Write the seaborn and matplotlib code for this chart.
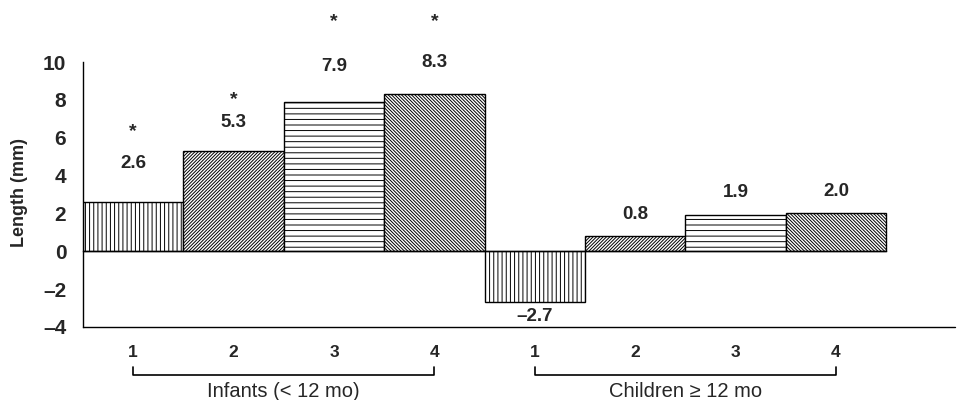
import numpy as np
import pandas as pd
import seaborn as sns
import matplotlib.pyplot as plt

# data
groups = ['Infants (< 12 mo)', 'Children ≥ 12 mo']
levels = ['1', '2', '3', '4']
values = [2.6, 5.3, 7.9, 8.3, -2.7, 0.8, 1.9, 2.0]
value_text = ['2.6', '5.3', '7.9', '8.3', '–2.7', '0.8', '1.9', '2.0']
signif = [True, True, True, True, False, False, False, False]

# where the value labels and stars sit (data units)
label_y = [4.66, 6.83, 9.74, 9.95, -3.47, 1.92, 3.13, 3.18]
star_y = [6.3, 7.99, 12.11, 12.11]
hatches = ['||||', '/' * 10, '---', '\\' * 10]

sns.set_style('white')
plt.rcParams['font.family'] = ['Liberation Sans', 'DejaVu Sans']
plt.rcParams['hatch.linewidth'] = 0.7

bars = [f'{g}-{l}' for g in groups for l in levels]
df = pd.DataFrame({'bar': bars, 'length': values})

fig = plt.figure(figsize=(9.57, 4.0), dpi=100)
ax = fig.add_axes([83 / 957, 73 / 400, 872 / 957, 265 / 400])

sns.barplot(data=df, x='bar', y='length', order=bars, color='white',
            saturation=1, edgecolor='black', linewidth=1, width=1,
            errorbar=None, ax=ax)
for patch, h in zip(ax.patches, hatches * 2):
    patch.set_hatch(h)

n = len(values)
ax.set_xlim(-0.5, -0.5 + 872 / 100.4)
ax.set_ylim(-4, 10)
ax.set_yticks(range(-4, 11, 2))
ax.set_yticklabels([str(v).replace('-', '–') for v in range(-4, 11, 2)],
                   fontsize=15, fontweight='bold')
ax.set_xticks(np.arange(-0.5, n, 1))
ax.set_xticklabels([''] * (n + 1))
ax.set_xlabel('')

for s in ['top', 'right']:
    ax.spines[s].set_visible(False)
ax.spines['bottom'].set_position(('data', 0))
ax.spines['bottom'].set_bounds(-0.5, n - 0.5)
ax.spines['left'].set_bounds(-4, 10)
for s in ['bottom', 'left']:
    ax.spines[s].set_linewidth(1)
    ax.spines[s].set_color('black')
ax.tick_params(axis='both', direction='out', length=6, width=1, color='black')
ax.tick_params(axis='y', pad=6)
ax.axhline(-4, color='black', lw=1, clip_on=False)

ax.set_ylabel('Length (mm)', fontsize=13, fontweight='bold')
ax.yaxis.set_label_coords(-0.063, 0.509)

# value labels and significance stars
for i, (txt, ly) in enumerate(zip(value_text, label_y)):
    ax.text(i, ly, txt, ha='center', va='center', fontsize=13.5,
            fontweight='bold', clip_on=False)
for i, sy in enumerate(star_y):
    if signif[i]:
        ax.text(i, sy, '*', ha='center', va='center', fontsize=14,
                fontweight='bold', clip_on=False)

# category numbers, brackets and group names under the axis
tr = ax.get_xaxis_transform()
for i in range(n):
    ax.text(i, -0.098, levels[i % 4], transform=tr, ha='center', va='center',
            fontsize=12.5, fontweight='bold')
for gi, g in enumerate(groups):
    x0, x1 = gi * 4, gi * 4 + 3
    ax.plot([x0, x0, x1, x1], [-0.151, -0.181, -0.181, -0.151], transform=tr,
            color='black', lw=1.2, clip_on=False)
    ax.text((x0 + x1) / 2, -0.245, g, transform=tr, ha='center', va='center',
            fontsize=14.5)

fig.savefig('out.png', dpi=100)
